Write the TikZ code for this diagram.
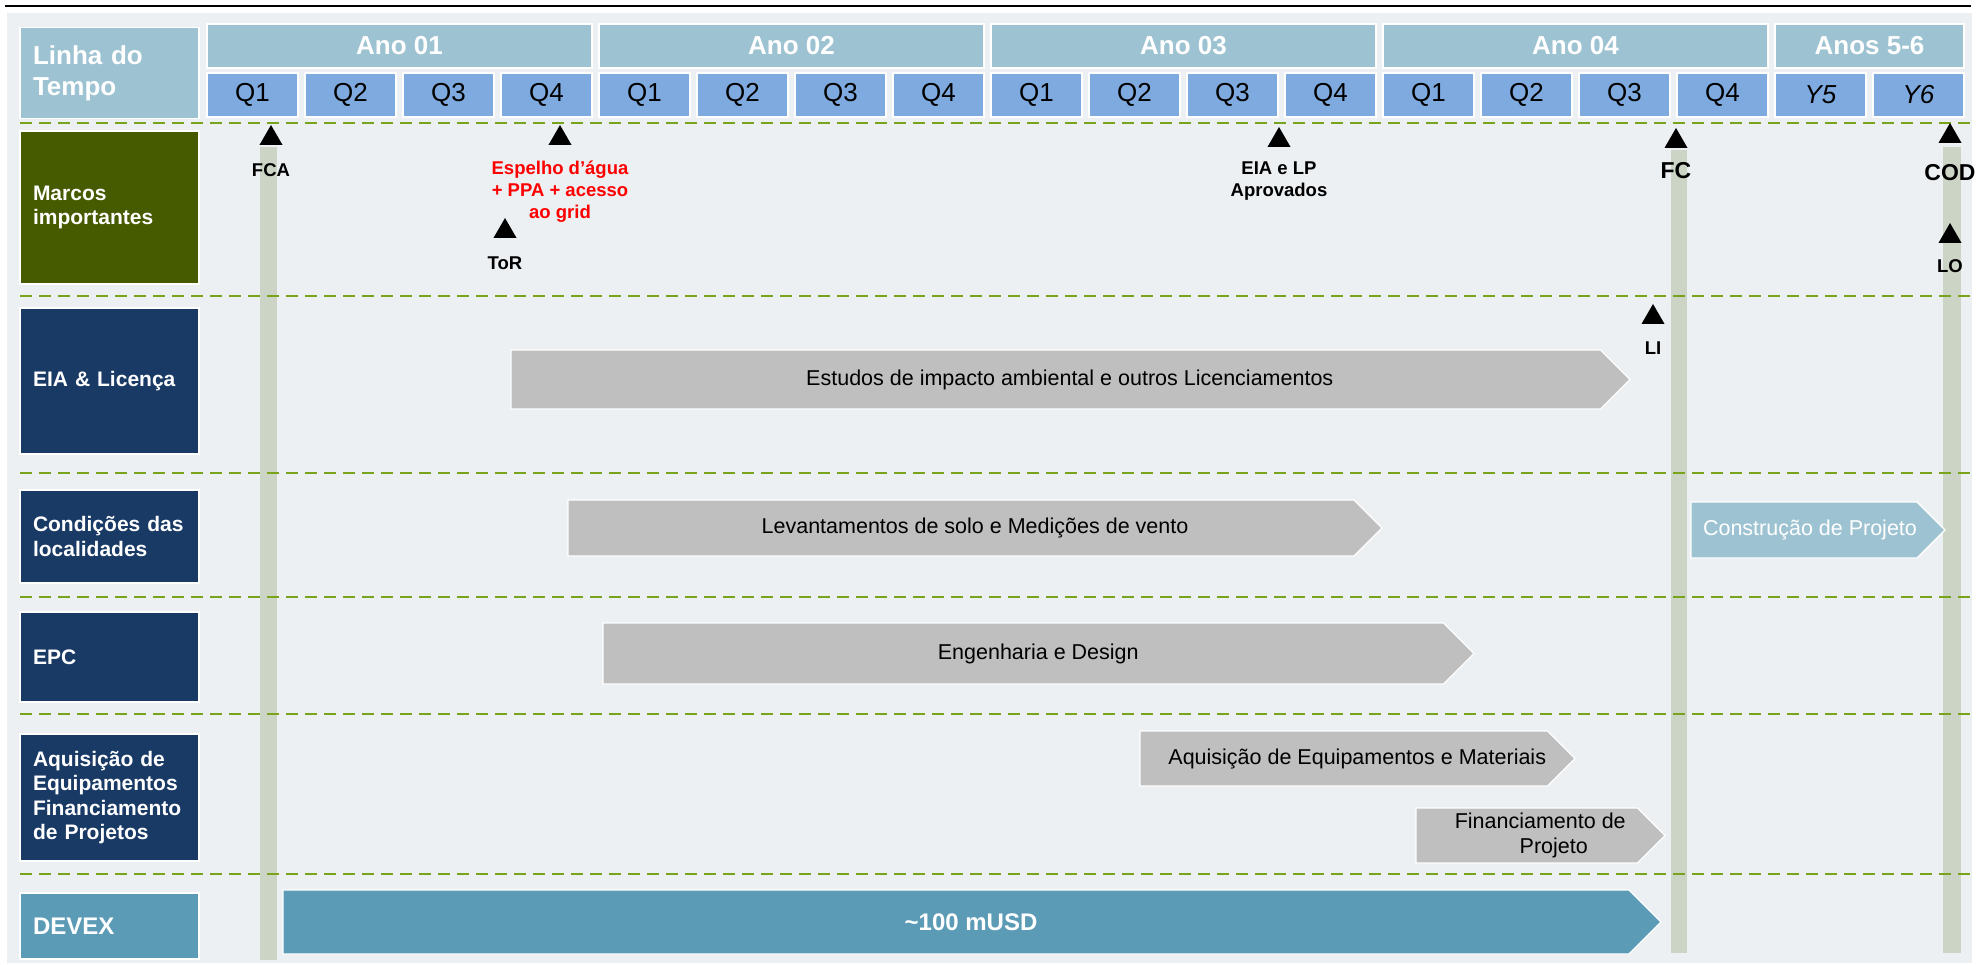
\documentclass[tikz,border=0pt]{standalone}
\usepackage{fontspec}
\setmainfont{Liberation Sans}
\usetikzlibrary{positioning,shapes.geometric,shapes.symbols}

\definecolor{panelbg}{HTML}{ECF0F3}
\definecolor{yearblue}{HTML}{9DC3D2}
\definecolor{qblue}{HTML}{7FAADF}
\definecolor{olive}{HTML}{465A00}
\definecolor{navy}{HTML}{1A3A66}
\definecolor{devexblue}{HTML}{5B9BB6}
\definecolor{bargray}{HTML}{BFBFBF}
\definecolor{barsage}{HTML}{CCD5C5}
\definecolor{dashgreen}{HTML}{7AA31C}
\definecolor{alertred}{HTML}{FF0000}

\begin{document}
\begin{tikzpicture}[
  x=1pt, y=-1pt,
  node distance=7pt,
  rowhead/.style={
    rectangle, draw=white, line width=1.2pt, outer sep=0pt,
    text=white, align=left, text width=153pt,
    inner xsep=13pt, inner ysep=0pt,
    font=\fontsize{21}{24.5}\selectfont\bfseries
  },
  yearbox/.style={
    rectangle, draw=white, line width=1.2pt, fill=yearblue, outer sep=0pt,
    text=white, minimum height=44pt, inner sep=0pt,
    font=\fontsize{26}{30}\selectfont\bfseries
  },
  qbox/.style={
    rectangle, draw=white, line width=1.2pt, fill=qblue, outer sep=0pt,
    minimum width=91pt, minimum height=44pt, inner sep=0pt,
    font=\fontsize{26}{30}\selectfont
  },
  marker/.style={
    regular polygon, regular polygon sides=3,
    fill=black, inner sep=0pt, outer sep=0pt, minimum size=26.6pt
  },
  mlabel/.style={
    inner sep=0pt, outer sep=0pt, align=center,
    font=\fontsize{18.5}{22}\selectfont\bfseries
  },
  task/.style={
    signal, signal pointer angle=90, anchor=west,
    draw=white, line width=1.2pt, fill=bargray,
    align=center, inner sep=0pt, outer sep=0pt,
    font=\fontsize{21.5}{25}\selectfont
  },
  tipshift/.style={execute at begin node=\hspace*{#1}},
  vbar/.style={fill=barsage},
  sep/.style={dashgreen, line width=2.2pt, dash pattern=on 12pt off 7pt}
]

\useasboundingbox (0,0) rectangle (1977,965);

% =====================================================
% PANEL
% =====================================================

\fill[panelbg] (7,13) rectangle (1972,963);
\draw[line width=2.5pt] (5,6) -- (1971,6);

\fill[vbar] (260,147) rectangle (277,960);
\fill[vbar] (1671,150) rectangle (1687,953);
\fill[vbar] (1943,147) rectangle (1961,953);

\draw[sep] (20,123) -- (1977,123);
\draw[sep] (20,296) -- (1977,296);
\draw[sep] (20,473) -- (1977,473);
\draw[sep] (20,597) -- (1977,597);
\draw[sep] (20,714) -- (1977,714);
\draw[sep] (20,874) -- (1977,874);

% =====================================================
% ROW HEADERS
% =====================================================

\node[rowhead, fill=yearblue, minimum height=91pt,
  font=\fontsize{26}{31}\selectfont\bfseries] (linha) at (109.5,73)
{Linha do\\Tempo};

\node[rowhead, fill=olive, minimum height=153pt] (marcos) at (109.5,207.5)
{Marcos\\importantes};

\node[rowhead, fill=navy, minimum height=146pt] (eia) at (109.5,381)
{EIA \& Licença};

\node[rowhead, fill=navy, minimum height=93pt] (cond) at (109.5,536.5)
{Condições das\\localidades};

\node[rowhead, fill=navy, minimum height=90pt] (epc) at (109.5,657)
{EPC};

\node[rowhead, fill=navy, minimum height=127pt] (aquis) at (109.5,797.5)
{Aquisição de\\Equipamentos\\Financiamento\\de Projetos};

\node[rowhead, fill=devexblue, minimum height=66pt,
  font=\fontsize{24}{28}\selectfont\bfseries] (devex) at (109.5,926)
{DEVEX};

% =====================================================
% QUARTERS
% =====================================================

\node[qbox] (y1q1) at (252.5,95) {Q1};
\node[qbox, right=of y1q1] (y1q2) {Q2};
\node[qbox, right=of y1q2] (y1q3) {Q3};
\node[qbox, right=of y1q3] (y1q4) {Q4};
\node[qbox, right=of y1q4] (y2q1) {Q1};
\node[qbox, right=of y2q1] (y2q2) {Q2};
\node[qbox, right=of y2q2] (y2q3) {Q3};
\node[qbox, right=of y2q3] (y2q4) {Q4};
\node[qbox, right=of y2q4] (y3q1) {Q1};
\node[qbox, right=of y3q1] (y3q2) {Q2};
\node[qbox, right=of y3q2] (y3q3) {Q3};
\node[qbox, right=of y3q3] (y3q4) {Q4};
\node[qbox, right=of y3q4] (y4q1) {Q1};
\node[qbox, right=of y4q1] (y4q2) {Q2};
\node[qbox, right=of y4q2] (y4q3) {Q3};
\node[qbox, right=of y4q3] (y4q4) {Q4};
\node[qbox, right=of y4q4, font=\fontsize{26}{30}\selectfont\itshape] (y5) {Y5};
\node[qbox, right=of y5, font=\fontsize{26}{30}\selectfont\itshape] (y6) {Y6};

% =====================================================
% YEARS
% =====================================================

\node[yearbox, minimum width=385pt, above=5pt of y1q1.north west, anchor=south west] (ano1) {Ano 01};
\node[yearbox, minimum width=385pt, above=5pt of y2q1.north west, anchor=south west] (ano2) {Ano 02};
\node[yearbox, minimum width=385pt, above=5pt of y3q1.north west, anchor=south west] (ano3) {Ano 03};
\node[yearbox, minimum width=385pt, above=5pt of y4q1.north west, anchor=south west] (ano4) {Ano 04};
\node[yearbox, minimum width=189pt, above=5pt of y5.north west, anchor=south west] (ano56) {Anos 5-6};

% =====================================================
% MILESTONES
% =====================================================

\node[marker] (fca) at (271,138.3) {};
\node[mlabel, below=19pt of fca] (fcalbl) {FCA};

\node[marker] (espelho) at (560,138.3) {};
\node[mlabel, text=alertred, below=16pt of espelho] (espelholbl)
{Espelho d’água\\+ PPA + acesso\\ao grid};

\node[marker] (tor) at (505,231.3) {};
\node[mlabel, below=19pt of tor] (torlbl) {ToR};

\node[marker] (eialp) at (1279,140.3) {};
\node[mlabel, below=15pt of eialp] (eialplbl) {EIA e LP\\Aprovados};

\node[marker] (fc) at (1676,141.3) {};
\node[mlabel, font=\fontsize{23}{26}\selectfont\bfseries, below=14pt of fc] (fclbl) {FC};

\node[marker] (cod) at (1950,136.3) {};
\node[mlabel, font=\fontsize{23}{26}\selectfont\bfseries, below=21pt of cod] (codlbl) {COD};

\node[marker] (lo) at (1950,236.3) {};
\node[mlabel, below=17pt of lo] (lolbl) {LO};

\node[marker] (li) at (1653,317.3) {};
\node[mlabel, below=18pt of li] (lilbl) {LI};

% =====================================================
% TASKS
% =====================================================

\node[task, tipshift=28pt, minimum width=1119pt, minimum height=59pt] (estudos) at (511,379.5)
{Estudos de impacto ambiental e outros Licenciamentos};

\node[task, tipshift=28pt, minimum width=814pt, minimum height=56pt] (levant) at (568,528)
{Levantamentos de solo e Medições de vento};

\node[task, tipshift=12pt, minimum width=253pt, minimum height=56pt,
  fill=yearblue, text=white] (constr) at (1691,530)
{Construção de Projeto};

\node[task, tipshift=30pt, minimum width=871pt, minimum height=61pt] (engen) at (603,653.5)
{Engenharia e Design};

\node[task, tipshift=27pt, minimum width=435pt, minimum height=55pt] (aqeq) at (1140,758.5)
{Aquisição de Equipamentos e Materiais};

\node[task, tipshift=27pt, minimum width=249pt, minimum height=55pt] (financ) at (1416,835.5)
{Financiamento de\\\hspace*{27pt}Projeto};

\node[task, tipshift=30pt, minimum width=1378pt, minimum height=64pt,
  fill=devexblue, text=white, font=\fontsize{24}{28}\selectfont\bfseries] (capex) at (283,922)
{\textasciitilde100 mUSD};

\end{tikzpicture}
\end{document}
